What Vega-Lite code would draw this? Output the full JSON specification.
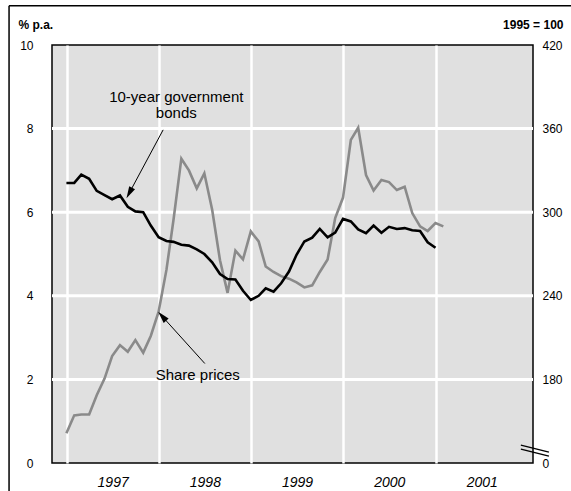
{
  "$schema": "https://vega.github.io/schema/vega-lite/v6.json",
  "width": 481,
  "height": 418,
  "autosize": "none",
  "padding": {"left": 52, "top": 45, "right": 38, "bottom": 28},
  "background": "white",
  "config": {
    "font": "Liberation Sans",
    "view": {"fill": "#e0e0e0", "stroke": "black", "strokeWidth": 1.5},
    "axis": {
      "labelFont": "Liberation Sans",
      "labelColor": "black",
      "titleFont": "Liberation Sans",
      "titleColor": "black",
      "ticks": false,
      "tickSize": 0,
      "domain": false,
      "gridColor": "#ffffff",
      "gridWidth": 2.5,
      "gridOpacity": 1
    }
  },
  "datasets": {
    "bonds": [
      {"date": "1996-12-31", "v": 6.70}, {"date": "1997-01-31", "v": 6.70}, {"date": "1997-02-28", "v": 6.90},
      {"date": "1997-03-31", "v": 6.80}, {"date": "1997-04-30", "v": 6.51}, {"date": "1997-05-31", "v": 6.41},
      {"date": "1997-06-30", "v": 6.31}, {"date": "1997-07-31", "v": 6.40}, {"date": "1997-08-31", "v": 6.13},
      {"date": "1997-09-30", "v": 6.02}, {"date": "1997-10-31", "v": 6.00}, {"date": "1997-11-30", "v": 5.68},
      {"date": "1997-12-31", "v": 5.40}, {"date": "1998-01-31", "v": 5.31}, {"date": "1998-02-28", "v": 5.29},
      {"date": "1998-03-31", "v": 5.22}, {"date": "1998-04-30", "v": 5.20}, {"date": "1998-05-31", "v": 5.11},
      {"date": "1998-06-30", "v": 5.00}, {"date": "1998-07-31", "v": 4.80}, {"date": "1998-08-31", "v": 4.52},
      {"date": "1998-09-30", "v": 4.40}, {"date": "1998-10-31", "v": 4.39}, {"date": "1998-11-30", "v": 4.12},
      {"date": "1998-12-31", "v": 3.90}, {"date": "1999-01-31", "v": 4.00}, {"date": "1999-02-28", "v": 4.18},
      {"date": "1999-03-31", "v": 4.10}, {"date": "1999-04-30", "v": 4.30}, {"date": "1999-05-31", "v": 4.58},
      {"date": "1999-06-30", "v": 4.98}, {"date": "1999-07-31", "v": 5.30}, {"date": "1999-08-31", "v": 5.39},
      {"date": "1999-09-30", "v": 5.60}, {"date": "1999-10-31", "v": 5.40}, {"date": "1999-11-30", "v": 5.51},
      {"date": "1999-12-31", "v": 5.84}, {"date": "2000-01-31", "v": 5.78}, {"date": "2000-02-29", "v": 5.59},
      {"date": "2000-03-31", "v": 5.50}, {"date": "2000-04-30", "v": 5.68}, {"date": "2000-05-31", "v": 5.51},
      {"date": "2000-06-30", "v": 5.65}, {"date": "2000-07-31", "v": 5.60}, {"date": "2000-08-31", "v": 5.62},
      {"date": "2000-09-30", "v": 5.57}, {"date": "2000-10-31", "v": 5.55}, {"date": "2000-11-30", "v": 5.28},
      {"date": "2000-12-31", "v": 5.15}
    ],
    "share": [
      {"date": "1996-12-31", "idx": 141.3}, {"date": "1997-01-31", "idx": 154.2}, {"date": "1997-02-28", "idx": 154.8},
      {"date": "1997-03-31", "idx": 154.8}, {"date": "1997-04-30", "idx": 168.6}, {"date": "1997-05-31", "idx": 180.6},
      {"date": "1997-06-30", "idx": 196.8}, {"date": "1997-07-31", "idx": 204.6}, {"date": "1997-08-31", "idx": 199.8},
      {"date": "1997-09-30", "idx": 208.2}, {"date": "1997-10-31", "idx": 199.2}, {"date": "1997-11-30", "idx": 211.2},
      {"date": "1997-12-31", "idx": 228.6}, {"date": "1998-01-31", "idx": 258.6}, {"date": "1998-02-28", "idx": 294.6},
      {"date": "1998-03-31", "idx": 338.4}, {"date": "1998-04-30", "idx": 330.0}, {"date": "1998-05-31", "idx": 317.1},
      {"date": "1998-06-30", "idx": 327.9}, {"date": "1998-07-31", "idx": 301.8}, {"date": "1998-08-31", "idx": 265.5},
      {"date": "1998-09-30", "idx": 242.1}, {"date": "1998-10-31", "idx": 272.4}, {"date": "1998-11-30", "idx": 266.1},
      {"date": "1998-12-31", "idx": 286.2}, {"date": "1999-01-31", "idx": 279.0}, {"date": "1999-02-28", "idx": 261.0},
      {"date": "1999-03-31", "idx": 257.1}, {"date": "1999-04-30", "idx": 254.1}, {"date": "1999-05-31", "idx": 252.3},
      {"date": "1999-06-30", "idx": 249.6}, {"date": "1999-07-31", "idx": 246.0}, {"date": "1999-08-31", "idx": 247.5},
      {"date": "1999-09-30", "idx": 257.1}, {"date": "1999-10-31", "idx": 266.1}, {"date": "1999-11-30", "idx": 295.8},
      {"date": "1999-12-31", "idx": 310.5}, {"date": "2000-01-31", "idx": 351.9}, {"date": "2000-02-29", "idx": 360.6},
      {"date": "2000-03-31", "idx": 326.7}, {"date": "2000-04-30", "idx": 315.6}, {"date": "2000-05-31", "idx": 323.1},
      {"date": "2000-06-30", "idx": 321.6}, {"date": "2000-07-31", "idx": 315.9}, {"date": "2000-08-31", "idx": 318.3},
      {"date": "2000-09-30", "idx": 299.4}, {"date": "2000-10-31", "idx": 289.8}, {"date": "2000-11-30", "idx": 286.5},
      {"date": "2000-12-31", "idx": 292.2}, {"date": "2001-01-31", "idx": 289.8}
    ]
  },
  "encoding": {
    "x": {
      "field": "date",
      "type": "temporal",
      "scale": {"domain": [{"year": 1996, "month": 11, "date": 4}, {"year": 2002, "month": 1, "date": 21}], "nice": false},
      "axis": {
        "values": [
          {"year": 1997, "month": 1, "date": 1}, {"year": 1998, "month": 1, "date": 1}, {"year": 1999, "month": 1, "date": 1},
          {"year": 2000, "month": 1, "date": 1}, {"year": 2001, "month": 1, "date": 1}
        ],
        "format": "%Y",
        "labelOffset": 46,
        "labelFlush": false,
        "labelFontSize": 14,
        "labelFontStyle": "italic",
        "labelPadding": 12,
        "title": null,
        "grid": true
      }
    }
  },
  "layer": [
    {
      "encoding": {
        "y": {
          "field": "idx",
          "type": "quantitative",
          "scale": {"domain": [120, 420], "nice": false, "zero": false},
          "axis": {
            "orient": "right",
            "values": [120, 180, 240, 300, 360, 420],
            "labelExpr": "datum.value == 120 ? '0' : datum.label",
            "grid": false,
            "labelFontSize": 12,
            "labelPadding": 9,
            "title": "1995 = 100",
            "titleAngle": 0,
            "titleAlign": "right",
            "titleBaseline": "middle",
            "titleX": 30,
            "titleY": -21,
            "titleFontSize": 12,
            "titleFontWeight": "bold"
          }
        }
      },
      "layer": [
        {
          "data": {"values": [
            {"date": "1996-11-04", "date2": "2002-01-21", "idx": 180},
            {"date": "1996-11-04", "date2": "2002-01-21", "idx": 240},
            {"date": "1996-11-04", "date2": "2002-01-21", "idx": 300},
            {"date": "1996-11-04", "date2": "2002-01-21", "idx": 360}
          ]},
          "mark": {"type": "rule", "color": "#ffffff", "strokeWidth": 3, "opacity": 1},
          "encoding": {"x2": {"field": "date2"}}
        },
        {
          "data": {"name": "share"},
          "mark": {"type": "line", "color": "#8a8a8a", "strokeWidth": 2.6}
        }
      ]
    },
    {
      "encoding": {
        "y": {
          "field": "v",
          "type": "quantitative",
          "scale": {"domain": [0, 10], "nice": false, "zero": false},
          "axis": {
            "orient": "left",
            "values": [0, 2, 4, 6, 8, 10],
            "grid": false,
            "labelFontSize": 12,
            "labelPadding": 19,
            "title": "% p.a.",
            "titleAngle": 0,
            "titleAlign": "left",
            "titleBaseline": "middle",
            "titleX": -34,
            "titleY": -21,
            "titleFontSize": 12,
            "titleFontWeight": "bold"
          }
        }
      },
      "layer": [
        {
          "data": {"name": "bonds"},
          "mark": {"type": "line", "color": "black", "strokeWidth": 2.6}
        },
        {
          "data": {"values": [
            {"date": "1998-01-18", "v": 7.97, "date2": "1997-09-06", "v2": 6.46},
            {"date": "1998-07-02", "v": 2.38, "date2": "1998-01-14", "v2": 3.51}
          ]},
          "mark": {"type": "rule", "color": "black", "strokeWidth": 1},
          "encoding": {"x2": {"field": "date2"}, "y2": {"field": "v2"}}
        },
        {
          "data": {"values": [{"date": "1997-09-06", "v": 6.46}]},
          "mark": {"type": "point", "shape": "M0,-1L0.55,1L-0.55,1Z", "size": 144, "angle": 208, "filled": true, "color": "black", "opacity": 1}
        },
        {
          "data": {"values": [{"date": "1998-01-14", "v": 3.51}]},
          "mark": {"type": "point", "shape": "M0,-1L0.55,1L-0.55,1Z", "size": 144, "angle": 318, "filled": true, "color": "black", "opacity": 1}
        },
        {
          "data": {"values": [
            {"date": "1998-03-11", "v": 8.76, "label": "10-year government\nbonds"},
            {"date": "1998-06-04", "v": 2.11, "label": "Share prices"}
          ]},
          "mark": {"type": "text", "fontSize": 15, "font": "Liberation Sans", "align": "center", "baseline": "middle", "lineBreak": "\n", "lineHeight": 16, "color": "black"},
          "encoding": {"text": {"field": "label"}}
        },
        {
          "data": {"values": [
            {"date": "2001-12-04", "v": 0.426, "date2": "2002-03-25", "v2": 0.259},
            {"date": "2001-12-04", "v": 0.331, "date2": "2002-03-25", "v2": 0.163}
          ]},
          "mark": {"type": "rule", "color": "black", "strokeWidth": 1.3},
          "encoding": {"x2": {"field": "date2"}, "y2": {"field": "v2"}}
        },
        {
          "data": {"values": [
            {"date": "1996-05-18", "v": 10.94, "date2": "1996-05-18", "v2": -0.9},
            {"date": "1996-05-18", "v": 10.94, "date2": "2002-07-10", "v2": 10.94}
          ]},
          "mark": {"type": "rule", "color": "black", "strokeWidth": 1.5},
          "encoding": {"x2": {"field": "date2"}, "y2": {"field": "v2"}}
        }
      ]
    }
  ],
  "resolve": {"scale": {"y": "independent"}}
}
